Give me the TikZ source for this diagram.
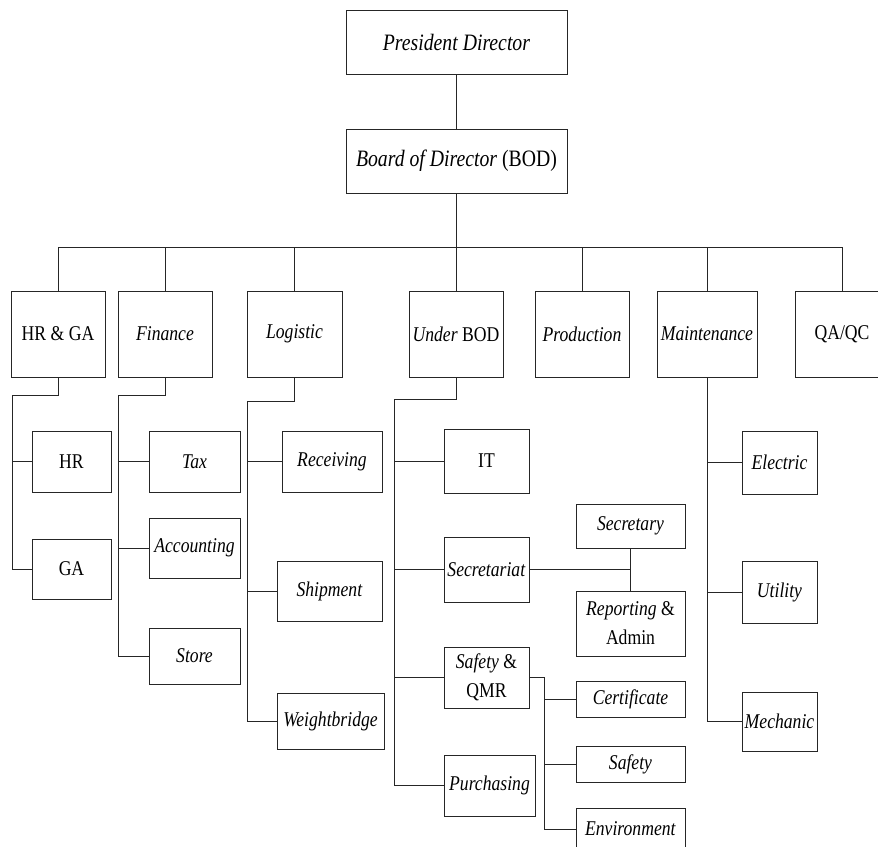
\documentclass[tikz,border=0pt]{standalone}
\usepackage{fontspec}
\setmainfont{Liberation Serif}[FakeStretch=0.84]
\usepackage{tikz}

\begin{document}
\begin{tikzpicture}[
    x=1pt, y=-1pt,
    all/.style={rectangle, draw=black!85, line width=.8pt, inner sep=1pt,
        align=center, font=\fontsize{21}{29}\selectfont},
    head/.style={all, minimum width=221pt, minimum height=64pt,
        font=\fontsize{23.5}{29}\selectfont},
    dept/.style={all, minimum width=94pt, minimum height=86pt},
    sub/.style={all, minimum width=#1, minimum height=61pt},
    sub/.default=91pt,
    small/.style={all, minimum width=109pt, minimum height=36pt},
    link/.style={draw=black!85, line width=.8pt},
]
    \clip (0,0) rectangle (878,846);

    % top
    \node [head] (pres) at (456.5,42) {\textit{President Director}};
    \node [head] (bod) at (456.5,161) {\textit{Board of Director} (BOD)};

    % departments
    \node [dept] (hrga) at (58,334) {HR \& GA};
    \node [dept] (fin) at (165,334) {\textit{Finance}};
    \node [dept, minimum width=95pt] (log) at (294.5,334) {\textit{Logistic}};
    \node [dept] (under) at (456,334) {\textit{Under} BOD};
    \node [dept] (prod) at (582,334) {\textit{Production}};
    \node [dept, minimum width=100pt] (maint) at (707,334) {\textit{Maintenance}};
    \node [dept] (qaqc) at (842,334) {QA/QC};

    % HR & GA
    \node [sub=79pt] (hr) at (71.5,461.5) {HR};
    \node [sub=79pt, minimum height=60pt] (ga) at (71.5,569) {GA};

    % Finance
    \node [sub] (tax) at (194.5,461.5) {\textit{Tax}};
    \node [sub, minimum height=60pt] (acc) at (194.5,548) {\textit{Accounting}};
    \node [sub, minimum height=56pt] (store) at (194.5,656) {\textit{Store}};

    % Logistic
    \node [sub=100pt] (recv) at (332,461.5) {\textit{Receiving}};
    \node [sub=105pt, minimum height=60pt] (ship) at (329.5,591) {\textit{Shipment}};
    \node [sub=107pt, minimum height=56pt] (wb) at (330.5,721) {\textit{Weightbridge}};

    % Under BOD
    \node [sub=85pt, minimum height=64pt] (it) at (486.5,461) {IT};
    \node [sub=85pt, minimum height=65pt] (secr) at (486.5,569.5) {\textit{Secretariat}};
    \node [sub=85pt] (sqmr) at (486.5,677.5) {\textit{Safety} \&\\QMR};
    \node [sub] (purch) at (489.5,785.5) {\textit{Purchasing}};
    \node [small, minimum height=44pt] (secy) at (630.5,526) {\textit{Secretary}};
    \node [small, minimum height=65pt] (rep) at (630.5,623.5) {\textit{Reporting} \&\\Admin};
    \node [small] (cert) at (630.5,699) {\textit{Certificate}};
    \node [small] (safe) at (630.5,764) {\textit{Safety}};
    \node [small, minimum height=42pt] (env) at (630.5,829) {\textit{Environment}};

    % Maintenance
    \node [sub=75pt, minimum height=63pt] (elec) at (779.5,462.5) {\textit{Electric}};
    \node [sub=75pt, minimum height=62pt] (util) at (779.5,592) {\textit{Utility}};
    \node [sub=75pt, minimum height=59pt] (mech) at (779.5,721.5) {\textit{Mechanic}};

    % bus
    \coordinate (bus) at (0,247);
    \draw [link] (pres) -- (bod);
    \draw [link] (bod) -- (bod |- bus);
    \draw [link] (hrga.north |- bus) -- (qaqc.north |- bus);
    \foreach \d in {hrga, fin, log, under, prod, maint, qaqc}
        \draw [link] (\d.north) -- (\d.north |- bus);

    % branches
    \coordinate (hrga-b) at (12,395);
    \draw [link] (hrga.south) |- (hrga-b) |- (ga.west);
    \draw [link] (hrga-b |- hr.west) -- (hr.west);

    \coordinate (fin-b) at (118,395);
    \draw [link] (fin.south) |- (fin-b) |- (store.west);
    \foreach \s in {tax, acc}
        \draw [link] (fin-b |- \s.west) -- (\s.west);

    \coordinate (log-b) at (247,401);
    \draw [link] (log.south) |- (log-b) |- (wb.west);
    \foreach \s in {recv, ship}
        \draw [link] (log-b |- \s.west) -- (\s.west);

    \coordinate (under-b) at (394,399);
    \draw [link] (under.south) |- (under-b) |- (purch.west);
    \foreach \s in {it, secr, sqmr}
        \draw [link] (under-b |- \s.west) -- (\s.west);

    \draw [link] (secr.east) -- (secr.east -| secy.south);
    \draw [link] (secy.south) -- (rep.north);

    \coordinate (sqmr-b) at (544,0);
    \draw [link] (sqmr.east) -| (sqmr-b |- env.west) -- (env.west);
    \foreach \s in {cert, safe}
        \draw [link] (sqmr-b |- \s.west) -- (\s.west);

    \draw [link] (maint.south) |- (mech.west);
    \foreach \s in {elec, util}
        \draw [link] (maint.south |- \s.west) -- (\s.west);
\end{tikzpicture}
\end{document}
